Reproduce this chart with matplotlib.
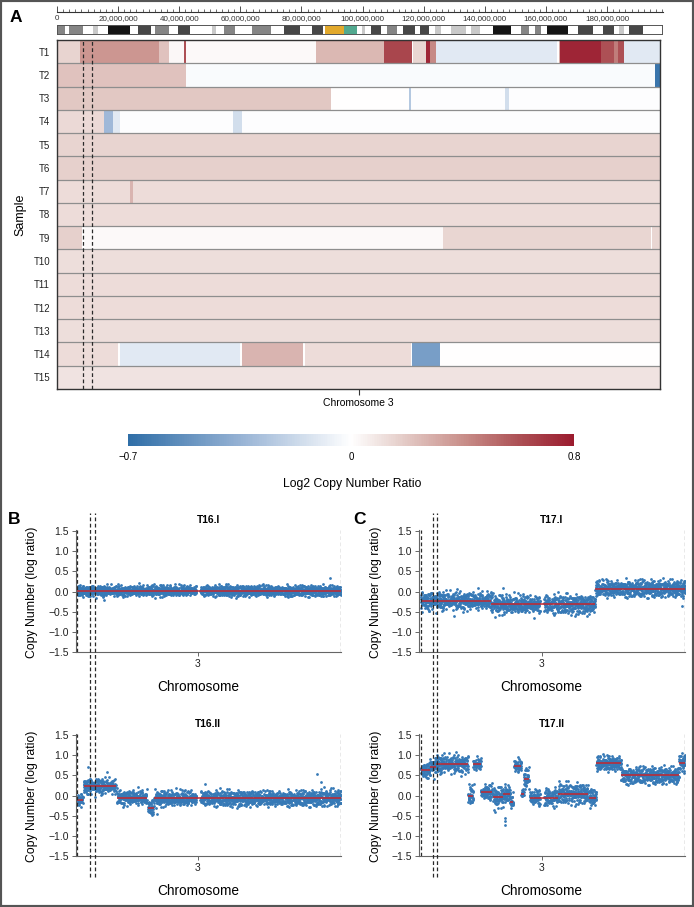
import numpy as np
import matplotlib
matplotlib.use('Agg')
import matplotlib.pyplot as plt
from matplotlib.colors import LinearSegmentedColormap, TwoSlopeNorm
from matplotlib.cm import ScalarMappable
from matplotlib.lines import Line2D
from matplotlib.patches import Rectangle
import matplotlib.transforms as mtransforms
from matplotlib.ticker import FuncFormatter

W, H = 694, 907
CHR_LEN = 198.3   # chromosome 3 length, Mb
CENTRO = 90.75    # tick "3" position, Mb

SANS = ['Liberation Sans', 'DejaVu Sans']
NARROW = ['Liberation Sans', 'DejaVu Sans']

# ---------------- cytoband ideogram ----------------
BAND_EDGES = [0, 2.6, 4.0, 8.6, 11.7, 13.4, 16.7, 24.0, 26.7, 30.8, 32.2, 36.6, 39.6, 43.7,
              50.8, 52.1, 54.6, 58.5, 63.9, 70.0, 74.3, 79.8, 83.6, 87.3, 88.0, 94.0, 98.4,
              100.1, 101.1, 102.8, 106.1, 108.0, 111.3, 113.5, 117.2, 119.0, 121.9, 123.8,
              125.8, 129.1, 134.0, 135.6, 138.7, 142.8, 148.8, 152.1, 154.8, 156.7, 158.6,
              160.6, 167.4, 170.9, 175.6, 178.9, 182.5, 184.3, 186.0, 187.6, 192.0, 198.3]
BAND_STAIN = ['m', 'w', 'm', 'w', 'l', 'w', 'k', 'w', 'd', 'w', 'm', 'w', 'd', 'w', 'l', 'w',
              'm', 'w', 'm', 'w', 'd', 'w', 'd', 'w', 'y', 't', 'w', 'l', 'w', 'd', 'w', 'm',
              'w', 'd', 'w', 'd', 'w', 'l', 'w', 'l', 'w', 'l', 'w', 'k', 'w', 'm', 'w', 'm',
              'w', 'k', 'w', 'd', 'w', 'd', 'w', 'l', 'w', 'd', 'w']
STAIN_COLORS = {'w': '#ffffff', 'l': '#c9c9c9', 'm': '#858585', 'd': '#474747',
                'k': '#151515', 'y': '#e2a92c', 't': '#52a98f'}

# ---------------- heatmap (segment start Mb, log2 ratio) ----------------
SAMPLES = ['T%d' % i for i in range(1, 16)]
T1 = [(0, 0.16), (7.6, 0.38), (33.5, 0.22), (36.8, 0.03), (41.7, 0.6), (42.4, 0.02),
      (85.1, 0.26), (107.7, 0.64), (116.9, 0.0), (117.2, 0.15), (121.5, 0.76), (122.5, 0.42),
      (124.8, -0.1), (164.5, 0.0), (165.2, 0.3), (165.5, 0.76), (179.0, 0.6), (183.3, 0.46),
      (184.6, 0.6), (186.5, -0.1)]
T2 = [(0, 0.22), (42.4, -0.02), (196.7, -0.66)]
T3 = [(0, 0.2), (90.0, 0.0), (115.6, -0.25), (116.3, -0.01), (147.2, -0.15), (148.5, -0.01)]
T4 = [(0, 0.14), (15.4, -0.32), (18.4, -0.1), (20.7, -0.01), (57.8, -0.15), (60.8, -0.01)]
T5 = [(0, 0.16)]
T6 = [(0, 0.17)]
T7 = [(0, 0.13), (24.0, 0.27), (25.0, 0.13)]
T8 = [(0, 0.13)]
T9 = [(0, 0.17), (8.2, 0.0), (9.2, 0.02), (127.1, 0.15), (195.4, 0.0), (195.8, 0.15)]
T10 = [(0, 0.12)]
T11 = [(0, 0.125)]
T12 = [(0, 0.125)]
T13 = [(0, 0.12)]
T14 = [(0, 0.13), (20.0, 0.0), (20.7, -0.1), (60.1, 0.0), (60.8, 0.27), (80.8, 0.0),
       (81.4, 0.13), (116.3, 0.0), (116.6, -0.45), (126.1, 0.0)]
T15 = [(0, 0.1)]
HEAT_ROWS = [T1, T2, T3, T4, T5, T6, T7, T8, T9, T10, T11, T12, T13, T14, T15]
HEAT_DASH = [8.5, 11.5]
CB_TICKS = [-0.7, 0, 0.8]
CB_LABELS = ['\u22120.7', '0', '0.8']

# ---------------- copy-number profiles (start, end, level, spread) ----------------
T16I_SEG = [(0, 198.3, 0.02, 0.07)]
T16I_OUT = [(20, -0.22), (140, 0.2), (190, 0.33), (112, 0.14), (45, 0.15)]
T16II_SEG = [(0, 4.2, -0.1, 0.08), (4.7, 28.8, 0.23, 0.1), (29.8, 52.2, -0.05, 0.1),
             (53.0, 57.3, -0.3, 0.1), (57.8, 182.0, -0.07, 0.1), (182.0, 198.3, -0.05, 0.11)]
T16II_OUT = [(8, 0.7), (22, 0.58), (180, 0.53), (60, -0.45), (96, 0.3), (183, 0.35)]
T17I_SEG = [(0, 53.0, -0.23, 0.12), (53.0, 131.0, -0.32, 0.12), (131.0, 198.3, 0.075, 0.11)]
T17I_OUT = [(25, -0.6), (62, 0.1), (85, -0.65), (125, -0.6), (196, -0.35), (100, -0.55)]
T17II_SEG = [(0, 6.75, 0.63, 0.1), (6.75, 11.0, 0.72, 0.12), (11.0, 35.5, 0.78, 0.12),
             (35.5, 39.3, -0.02, 0.15), (39.3, 45.0, 0.78, 0.08), (45.0, 53.75, 0.08, 0.1),
             (54.25, 61.75, -0.03, 0.13), (61.75, 67.25, 0.03, 0.12), (67.25, 69.5, -0.15, 0.1),
             (70.0, 75.5, 0.74, 0.09), (75.5, 77.25, 0.05, 0.05), (77.25, 81.25, 0.42, 0.15),
             (81.75, 103.0, -0.05, 0.12), (103.0, 125.5, 0.05, 0.13), (126.0, 131.75, -0.05, 0.12),
             (131.75, 150.5, 0.8, 0.1), (150.5, 193.75, 0.5, 0.11), (193.75, 198.3, 0.82, 0.12)]
T17II_OUT = [(63, -0.72), (63.3, -0.62), (62.8, -0.55), (40, 0.3), (36, 0.3), (56, -0.4)]
B_DASH = [9.75, 13.0]
C_DASH = [8.8, 11.8]
GAP = (89.5, 92.5)
DENSITY = 9.0

# texture of probe-level scatter around each segment level
NOISE_A = [0.3, -1.2, 0.8, -0.1, 1.5, -0.6, 0.0, -1.9, 0.9, 0.4, -0.7, 1.1, -0.3, 0.2, -1.4,
           0.6, 2.1, -0.9, 0.1, -0.4, 1.3, -1.1, 0.5, -0.2, 0.7, -1.6, 0.0, 1.0, -0.5, 0.3,
           -0.8, 1.7, -0.1, 0.4, -1.3, 0.8, -0.6, 0.2, 1.2, -2.0, 0.6, -0.3, 0.9, -1.0, 0.1,
           1.4, -0.4, -0.7, 0.5, -1.5, 1.9, 0.0, -0.2, 0.7, -0.9, 1.1, -1.2, 0.3, -0.5, 0.8, -0.1]
NOISE_B = [-0.5, 1.0, -0.2, 0.6, -1.3, 0.1, 1.6, -0.8, 0.4, -0.3, 0.9, -1.7, 0.2, 0.7, -0.6,
           1.2, -0.1, -1.0, 0.5, 0.0, 1.4, -0.4, 0.8, -1.2, 0.3, -0.7, 1.8, -0.9, 0.1, 0.6,
           -1.5, 0.4, -0.2, 1.1, -0.6, 0.0, 0.9, -1.1, 0.3, -0.3, 1.3, -0.8, 0.5, -1.4, 0.2,
           0.7, -0.5]

PT_COLOR = '#3679b6'
SEG_COLOR = '#c3262d'


def box(x0, y0, x1, y1):
    return [x0 / W, 1 - y1 / H, (x1 - x0) / W, (y1 - y0) / H]


fig = plt.figure(figsize=(W / 100, H / 100), dpi=100)
fig.patch.set_facecolor('white')

cmap = LinearSegmentedColormap.from_list(
    'cn', [(0.0, '#2f6ea7'), (0.25, '#96b2d4'), (0.5, '#ffffff'), (0.6, '#e8d4d0'),
           (0.75, '#c9908b'), (0.875, '#ad5256'), (1.0, '#9b1b2e')])
norm = TwoSlopeNorm(vmin=-0.7, vcenter=0.0, vmax=0.8)

# ---------- ruler ----------
rax = fig.add_axes(box(57, 2, 663, 12))
rax.set_xlim(0, CHR_LEN)
rax.set_ylim(0, 1)
for s in ['top', 'left', 'right']:
    rax.spines[s].set_visible(False)
rax.spines['bottom'].set_color('#333333')
rax.spines['bottom'].set_linewidth(0.8)
rax.set_yticks([])
rax.set_xticks(np.arange(0, 181, 20))
rax.set_xticks(np.arange(0, CHR_LEN, 2), minor=True)
rax.xaxis.set_major_formatter(FuncFormatter(lambda v, p: '{:,}'.format(int(round(v * 1e6)))))
rax.tick_params(axis='x', which='major', direction='in', length=4, width=0.6, labelsize=5.8,
                pad=2, colors='#333333')
rax.tick_params(axis='x', which='minor', direction='in', length=2.5, width=0.5, colors='#333333')
for t in rax.get_xticklabels():
    t.set_family(SANS)
rax.patch.set_alpha(0)

# ---------- ideogram ----------
iax = fig.add_axes(box(57, 25, 662, 33.5))
starts = np.array(BAND_EDGES[:-1])
widths = np.diff(BAND_EDGES)
iax.barh(np.full(len(starts), 0.5), widths, left=starts, height=1.0,
         color=[STAIN_COLORS[s] for s in BAND_STAIN], linewidth=0)
iax.set_xlim(0, CHR_LEN)
iax.set_ylim(0, 1)
iax.set_xticks([])
iax.set_yticks([])
for s in iax.spines.values():
    s.set_color('#555555')
    s.set_linewidth(0.7)

# ---------- heatmap ----------
hax = fig.add_axes(box(57, 40, 660, 389))
for i, row in enumerate(HEAT_ROWS):
    st = [s for s, _ in row]
    vals = np.array([v for _, v in row])
    ends = st[1:] + [CHR_LEN]
    wd = np.array(ends) - np.array(st)
    hax.barh(np.full(len(st), i + 0.5), wd, left=st, height=1.0,
             color=cmap(norm(vals)), linewidth=0)
hax.hlines(np.arange(1, len(HEAT_ROWS)), 0, CHR_LEN, colors='#8e8e8e', linewidth=0.9)
for xd in HEAT_DASH:
    hax.axvline(xd, color='#2a2a2a', linewidth=0.9, linestyle=(0, (3, 2)))
hax.set_xlim(0, CHR_LEN)
hax.set_ylim(len(HEAT_ROWS), 0)
hax.set_yticks(np.arange(len(SAMPLES)) + 0.5)
hax.set_yticklabels(SAMPLES, family=SANS, fontsize=7, color='#222222')
hax.tick_params(axis='y', length=0, pad=5)
hax.set_xticks([CHR_LEN / 2])
hax.tick_params(axis='x', length=4, width=0.8, labelbottom=False, colors='#333333')
for s in hax.spines.values():
    s.set_color('#333333')
    s.set_linewidth(1.0)
fig.text(358 / W, 1 - 403 / H, 'Chromosome 3', ha='center', va='center', family=SANS, fontsize=7.5)
fig.text(20 / W, 1 - 215 / H, 'Sample', ha='center', va='center', rotation=90, family=SANS, fontsize=9)

# ---------- colorbar ----------
cax = fig.add_axes(box(128, 434, 574, 446))
cb = fig.colorbar(ScalarMappable(norm=norm, cmap=cmap), cax=cax, orientation='horizontal', ticks=CB_TICKS)
cb.outline.set_visible(False)
cb.ax.set_xticklabels(CB_LABELS, family=NARROW, fontsize=7)
cax.tick_params(length=0, pad=4)
fig.text(352 / W, 1 - 484 / H, 'Log2 Copy Number Ratio', ha='center', va='center', family=NARROW, fontsize=8.8)

# ---------- copy-number scatter panels ----------
def probe_points(segments, k0):
    xs, ys = [], []
    k = k0
    for (s, e, lev, sig) in segments:
        n = max(int(round((e - s) * DENSITY)), 2)
        for xi in np.linspace(s, e, n):
            if GAP[0] < xi < GAP[1]:
                continue
            off = (NOISE_A[k % len(NOISE_A)] + NOISE_B[(3 * k) % len(NOISE_B)]) / 1.4
            xs.append(xi)
            ys.append(lev + sig * off)
            k += 1
    return np.array(xs), np.array(ys)


minus_fmt = FuncFormatter(lambda v, p: ('%.1f' % v).replace('-', '\u2212'))
XLIM = (-1.4, CHR_LEN)

PANELS = [
    ('T16.I', T16I_SEG, T16I_OUT, (75.5, 530, 341, 652), B_DASH, 0),
    ('T16.II', T16II_SEG, T16II_OUT, (75.5, 734, 341, 856), B_DASH, 17),
    ('T17.I', T17I_SEG, T17I_OUT, (419, 530, 685, 652), C_DASH, 29),
    ('T17.II', T17II_SEG, T17II_OUT, (419, 734, 685, 856), C_DASH, 41),
]
axes = []
for title, segs, outs, (x0, y0, x1, y1), dash, k0 in PANELS:
    ax = fig.add_axes(box(x0, y0, x1, y1))
    axes.append(ax)
    xs, ys = probe_points(segs, k0)
    ox = [o[0] for o in outs]
    oy = [o[1] for o in outs]
    ax.scatter(np.concatenate([xs, ox]), np.concatenate([ys, oy]), s=4.0, c=PT_COLOR,
               linewidths=0, zorder=2)
    for (s, e, lev, sig) in segs:
        ax.hlines(lev, s, e, colors=SEG_COLOR, linewidth=1.1, zorder=3)
    ax.axvline(0, color='#2a2a2a', linewidth=0.9, linestyle=(0, (3, 2)), zorder=4)
    ax.axvline(CHR_LEN, color='#555555', linewidth=0.9, linestyle=(0, (3, 2)), zorder=4)
    ax.set_xlim(*XLIM)
    ax.set_ylim(-1.5, 1.53)
    ax.set_yticks(np.arange(-1.5, 1.51, 0.5))
    ax.yaxis.set_major_formatter(minus_fmt)
    ax.set_xticks([CENTRO])
    ax.set_xticklabels(['3'])
    for s in ['top', 'right']:
        ax.spines[s].set_visible(False)
    for s in ['left', 'bottom']:
        ax.spines[s].set_color('#666666')
        ax.spines[s].set_linewidth(0.8)
    ax.tick_params(axis='both', length=3, width=0.7, colors='#666666', labelcolor='#222222',
                   labelsize=7.5, pad=2)
    for t in ax.get_xticklabels() + ax.get_yticklabels():
        t.set_family(NARROW)
    cx = (x0 + x1) / 2
    fig.text(cx / W, 1 - (y0 - 10) / H, title, ha='center', va='center', family=NARROW,
             fontweight='bold', fontsize=7.4)
    xl = x0 + (CENTRO - XLIM[0]) / (XLIM[1] - XLIM[0]) * (x1 - x0)
    fig.text(xl / W, 1 - (y1 + 35) / H, 'Chromosome', ha='center', va='center', family=NARROW,
             fontsize=9.8)
    fig.text((x0 - 43) / W, 1 - ((y0 + y1) / 2 + 1) / H, 'Copy Number (log ratio)', ha='center',
             va='center', rotation=90, family=NARROW, fontsize=8.8)

# long dashed lines crossing both panels of B and of C
for ax, dash in [(axes[0], B_DASH), (axes[2], C_DASH)]:
    tr = mtransforms.blended_transform_factory(ax.transData, fig.transFigure)
    for xd in dash:
        fig.add_artist(Line2D([xd, xd], [1 - 877 / H, 1 - 513 / H], transform=tr,
                              color='#2a2a2a', linewidth=0.9, linestyle=(0, (3, 2))))

# panel letters
fig.text(16 / W, 1 - 17 / H, 'A', ha='center', va='center', family=SANS, fontweight='bold', fontsize=12.5)
fig.text(14 / W, 1 - 520 / H, 'B', ha='center', va='center', family=SANS, fontweight='bold', fontsize=12.5)
fig.text(359 / W, 1 - 520 / H, 'C', ha='center', va='center', family=SANS, fontweight='bold', fontsize=12.5)

# figure frame
fig.add_artist(Rectangle((0, 0), 1, 1, transform=fig.transFigure, fill=False,
                         edgecolor='#555555', linewidth=3))

fig.savefig('out.png', dpi=100)
